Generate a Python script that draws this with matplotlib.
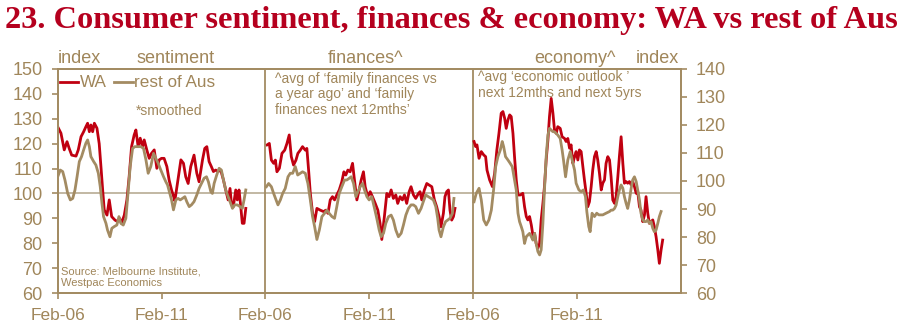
import numpy as np
import matplotlib.pyplot as plt

plt.rcParams['font.family'] = ['Liberation Sans', 'DejaVu Sans']

# x values are months since Feb-06 within each panel; y values
# sentiment (left scale)
sent_wa_m = [0, 1.9, 3.8, 5.4, 6.7, 8.1, 10.6, 11.9, 13.5, 15, 16.3, 17.3, 18.3, 19.2, 20.2, 21.2, 22.7, 24, 25,
             26, 26.9, 28.5, 29.8, 31.2, 33.1, 34.6, 35.8, 36.9, 38.5, 40, 41.3, 42.7, 44.2, 45.2, 46.5, 47.7, 49,
             50, 51.5, 52.9, 54.2, 55.8, 57.3, 58.7, 60, 61.5, 63.1, 64.4, 65.8, 66.9, 67.7, 69.2, 71.2, 72.7, 74,
             75.4, 76.9, 78.8, 80.4, 81.7, 83.7, 85, 86.2, 87.5, 88.8, 90, 91.3, 92.7, 94.2, 95.8, 97.1, 98.5, 99.6,
             100.4, 101.5, 102.9, 103.8, 104.8, 105.8, 106.7, 107.7, 108.7]
sent_wa = [126.8, 124.2, 117.5, 120.8, 118, 115.4, 115, 117.5, 122.8, 124.8, 126.8, 128.2, 124.8, 127.5, 124.8,
           128.2, 126.2, 120, 110.8, 101.4, 93.4, 91.3, 97.4, 90.7, 89.3, 88.7, 90, 88, 91.3, 97.4, 106.7, 118.8,
           123.5, 125.5, 118.8, 122.2, 118.8, 121.5, 117.5, 114.1, 116.1, 117.5, 110.1, 113.5, 114.1, 114.1, 110.8,
           105.4, 101.4, 99, 97, 104, 113.5, 112.1, 106.7, 104, 110.8, 115.4, 108.1, 104.7, 113.5, 118.1, 118.8,
           112.8, 110.8, 108.8, 109.4, 108.8, 109.4, 105.4, 101.4, 97.4, 102, 96, 94.7, 101.4, 97.4, 101.4, 94.7,
           88, 88, 94]
sent_aus_m = [0, 1.5, 2.9, 4.2, 5.8, 7.3, 8.7, 10, 11.2, 12.5, 13.8, 15, 16.3, 17.3, 18.3, 19.2, 20.8, 22.1, 23.5,
              24.6, 25.6, 26.5, 27.9, 28.8, 30.2, 31.3, 32.7, 34.2, 35.4, 36.5, 37.9, 39.4, 40.8, 41.9, 43.3, 44.6,
              46.2, 48.1, 49.6, 51, 52.3, 53.8, 55.4, 56.7, 58.1, 59.6, 61.2, 62.5, 63.5, 64.8, 65.8, 66.9, 68.3,
              69.6, 70.8, 72.1, 73.5, 74.6, 76, 77.3, 78.8, 80.4, 81.7, 83.1, 84.6, 86, 87.1, 88.5, 89.4, 90.4, 91.9,
              93.3, 94.6, 95.8, 97.1, 98.5, 99.6, 101, 102.3, 103.8, 105.4, 106.7, 107.7, 108.7]
sent_aus = [106.7, 109.4, 108.8, 105.4, 100, 97.4, 98, 101.4, 106.7, 112.8, 114.8, 117.5, 120.2, 121.5, 118.8,
            114.8, 112.8, 111.4, 108.1, 102.7, 96, 90.7, 88, 85.3, 82.6, 86, 86.7, 87.3, 90.7, 88, 87.3, 90, 101.4,
            110.8, 118.1, 118.8, 118.8, 118.8, 118.1, 113.5, 108.1, 110.8, 116.1, 114.1, 112.1, 109.4, 106.7, 104.7,
            103.4, 100, 97.4, 93.4, 97.4, 98, 97.4, 98, 98.7, 96.7, 94.7, 95.4, 96.7, 99.4, 102, 104, 106.1, 106.7,
            104.7, 100.7, 100, 104, 107.4, 110.1, 109.4, 105.4, 101.4, 98.7, 96.7, 94, 95.4, 95.4, 94.7, 94, 97.4,
            101.4]

# finances (left scale)
fin_wa_m = [1, 2.3, 3.5, 4.8, 5.8, 6.7, 8.1, 9.6, 11.2, 12.5, 13.8, 15, 16.3, 17.7, 18.8, 20.2, 21.5, 23.1, 24, 25,
            26, 27.3, 28.5, 29.8, 31.7, 33.7, 35, 36.2, 37.5, 38.8, 40, 41.3, 42.7, 44.2, 45.4, 46.5, 47.7, 49, 50.4,
            51.5, 52.9, 54.2, 55.4, 56.7, 57.7, 59.2, 60.6, 61.9, 63.5, 65, 66.3, 67.3, 68.8, 70.2, 71.5, 72.7, 74,
            75.4, 76.5, 77.9, 79.2, 80.4, 81.7, 83.1, 84.2, 85.6, 86.9, 88.5, 89.4, 90.4, 91.9, 93.3, 94.6, 96.2,
            97.7, 99, 100.4, 101.5, 102.9, 103.8, 104.8, 105.8, 106.7, 107.7, 108.7, 109.6]
fin_wa = [119.5, 120.1, 113.4, 112.1, 113.4, 108.7, 110.1, 116.1, 117.4, 120.1, 123.5, 114.8, 111.4, 113.4, 116.1,
          117.4, 118.8, 117.4, 118.1, 109.4, 100, 92, 88.7, 94, 93.3, 92.7, 93.3, 92, 97.4, 98.7, 97.4, 99.4, 101.4,
          104.7, 108.7, 107.4, 109.4, 108.7, 112.1, 105.4, 97.4, 101.4, 105.4, 108.7, 102.7, 98.7, 100.7, 98.7, 96,
          93.3, 88, 81.5, 90.7, 100, 98.7, 101.4, 98, 99.4, 96, 98.7, 97.4, 99.4, 96, 100.7, 102.7, 99.4, 98, 100,
          100.7, 97.4, 101.4, 104, 103.4, 102.7, 97.4, 94.7, 90.7, 86.6, 92, 98.7, 100.7, 101.4, 93.3, 89.3, 90.7,
          94]
fin_aus_m = [0.6, 1.9, 3.5, 4.8, 6.2, 7.3, 8.7, 10, 11.5, 13.1, 14.4, 15.8, 17.3, 18.7, 20.2, 21.5, 23.1, 24.6, 26,
             27.3, 28.5, 29.8, 31.2, 32.7, 34.2, 35.6, 36.9, 38.5, 40, 41.3, 42.7, 44.2, 45.8, 47.1, 48.5, 49.6, 51,
             52.3, 53.5, 54.8, 56.2, 57.3, 58.7, 60, 61.5, 63.1, 64.4, 65.8, 66.9, 68.3, 69.6, 71.2, 72.7, 74, 75.4,
             76.9, 78.5, 79.8, 81.2, 82.7, 84.2, 85.6, 86.9, 88.5, 90, 91.3, 92.7, 94.2, 95.8, 97.1, 98.5, 99.6,
             100.4, 101.5, 102.9, 104.2, 105.4, 106.7, 108.1, 109]
fin_aus = [102.7, 104, 102.7, 100, 97.4, 95.4, 97.4, 100, 102, 106.7, 108.1, 108.1, 110.8, 107.4, 108.1, 108.7,
           108.1, 104, 97.4, 90.7, 86.6, 81.5, 85.3, 90.7, 92, 93.3, 92, 90.7, 90, 94.7, 100, 102.7, 105.4, 105.4,
           106.1, 106.7, 104, 98.7, 100.7, 102.7, 104, 101.4, 98.7, 97.4, 98.7, 94, 90, 85.3, 82.6, 84, 88, 90.7,
           91.3, 89.3, 85.3, 82.6, 84, 87.3, 91.3, 94, 95.4, 95.4, 94.7, 92, 94, 96.7, 99.4, 98.7, 98, 97.4, 94.7,
           90, 85.3, 82.6, 86.6, 88.7, 89.3, 90, 92, 98]

# economy (right scale)
eco_wa_m = [0.6, 1.5, 2.3, 3.5, 4.8, 6.2, 7.3, 8.1, 9.6, 11.2, 12.5, 13.8, 15, 16.3, 17.3, 18.3, 19.2, 20.2, 21.2,
            22.1, 23.1, 24, 25, 26, 27.3, 28.8, 29.8, 30.8, 31.7, 32.7, 33.7, 34.6, 35.6, 36.5, 37.5, 38.5, 39.4,
            40.4, 41.3, 42.3, 43.3, 44.2, 45.2, 46.2, 47.1, 48.1, 49, 50.4, 51.5, 52.9, 53.8, 54.8, 55.8, 56.7, 57.7,
            58.7, 59.6, 60.6, 61.5, 62.5, 63.5, 64.4, 65.4, 66.3, 67.3, 68.3, 69.2, 70.2, 71.2, 72.1, 73.1, 74.1,
            75, 76, 76.9, 77.9, 78.9, 79.8, 80.8, 81.8, 82.7, 83.7, 84.6, 85.6, 86.6, 87.5, 88.5, 89.4, 90.4, 91.4,
            92.3, 93.3, 94.3, 95.2, 96.2, 97.1, 98.1, 99.1, 100, 101, 101.9, 102.9, 103.9, 104.8, 105.8, 106.8,
            107.7, 108.7, 109.6]
eco_wa = [114.1, 112.3, 112.9, 108.1, 110.5, 109.3, 108.7, 103.9, 100.4, 98, 102.7, 111.1, 117, 124.2, 124.8, 122.4,
          118.8, 121.8, 123.6, 123, 117, 108.7, 100.4, 95, 95, 95.6, 90.8, 87.3, 86.1, 87.3, 84.3, 80.7, 81.3, 77.7,
          76, 77.7, 86.1, 92, 98, 107.5, 114.6, 123, 129.5, 124.2, 118.2, 117, 119.4, 118.8, 115.8, 115.2, 114.1,
          115.2, 111.7, 112.9, 106.3, 108.7, 110.5, 107.5, 111.1, 110.5, 105.1, 100.4, 95.6, 90.8, 92.6, 98, 103.9,
          108.7, 110.5, 107.5, 102.7, 96.8, 99.2, 100.4, 106.3, 108.7, 107.5, 101.5, 93.2, 92, 94.4, 101.5, 108.7,
          115.8, 106.3, 99.2, 99.8, 99.2, 99.8, 98.6, 99.8, 98, 95.6, 96.2, 90.8, 89.6, 85.5, 87.9, 94.4, 88.5, 84.9,
          85.5, 86.1, 83.7, 80.1, 75.4, 70.6, 75.4, 78.9]
eco_aus_m = [0.6, 1.9, 3.5, 4.8, 6.2, 7.7, 9.2, 10.6, 11.9, 13.1, 14.4, 15.8, 16.9, 17.7, 18.8, 20.2, 21.5, 22.7,
             24, 25, 26, 26.9, 27.9, 28.8, 29.8, 30.8, 31.7, 32.7, 33.7, 34.6, 35.6, 36.5, 37.5, 38.5, 39.4, 40.4,
             41.3, 42.3, 43.3, 44.2, 45.2, 46.2, 47.1, 48.1, 49, 50.4, 51.5, 52.3, 53.5, 54.8, 56.2, 57.3, 58.7, 59.6,
             61.2, 62.5, 63.8, 65, 65.8, 66.9, 67.7, 68.8, 70.2, 71.5, 72.7, 75, 76.9, 78.9, 79.8, 80.8, 81.8, 82.7,
             83.7, 84.6, 85.6, 86.6, 87.5, 88.5, 89.4, 90.4, 91.4, 92.3, 93.3, 94.3, 95.2, 96.2, 97.1, 98.1, 99.1,
             100, 101, 101.9, 102.9, 103.9, 104.8, 105.8, 106.8, 107.7, 108.7]
eco_aus = [92.6, 95.6, 97.4, 93.2, 86.1, 84.3, 86.1, 89.6, 96.8, 105.1, 108.7, 111.1, 114.1, 112.3, 108.7, 107.5,
           106.3, 105.1, 100.4, 96.8, 88.5, 85.5, 83.7, 81.9, 77.7, 80.1, 80.7, 81.3, 80.1, 78.9, 81.3, 77.7, 74.8,
           73.6, 75.4, 84.9, 96.8, 108.7, 116.4, 118.8, 118.2, 117.6, 117.6, 117, 116.4, 115.2, 111.1, 107.5, 101.5,
           107.5, 110.5, 107.5, 103.9, 99.2, 96.8, 96.2, 96.8, 94.4, 89, 83.7, 81.9, 88.5, 87.3, 88.5, 87.9, 87.9,
           88.5, 89.1, 89.6, 89.6, 90.2, 91.4, 94.4, 96.8, 98.6, 97.4, 94.4, 92, 90.2, 93.2, 97.4, 100.4, 101.5,
           99.8, 96.8, 93.2, 88.5, 86.1, 85.5, 85.5, 86.1, 84.9, 85.5, 83.1, 81.9, 82.5, 84.9, 87.3, 89.1]

panel_titles = ['sentiment', 'finances^', 'economy^']
xtick_labels = ['Feb-06', 'Feb-11'] * 3

red = '#C00010'
tan = '#A38B62'
txt = '#A0865A'
lw = 2.0

fig = plt.figure(figsize=(8.97, 3.29), dpi=100)
ax = fig.add_axes([0.0643, 0.1094, 0.6945, 0.6809])
ax2 = ax.twinx()

# each panel covers 120 months
off = [0, 120, 240]
l1, = ax.plot(np.array(sent_wa_m) + off[0], sent_wa, color=red, lw=lw, label='WA')
l2, = ax.plot(np.array(sent_aus_m) + off[0], sent_aus, color=tan, lw=lw, label='rest of Aus')
ax.plot(np.array(fin_wa_m) + off[1], fin_wa, color=red, lw=lw)
ax.plot(np.array(fin_aus_m) + off[1], fin_aus, color=tan, lw=lw)
ax2.plot(np.array(eco_wa_m) + off[2], eco_wa, color=red, lw=lw)
ax2.plot(np.array(eco_aus_m) + off[2], eco_aus, color=tan, lw=lw)

ax.axhline(100, color='#B8AB93', lw=1.2, zorder=0)
for xv in off[1:]:
    ax.axvline(xv, color=tan, lw=1.3)

ax.set_xlim(0, 360)
ax.set_ylim(60, 150)
ax2.set_ylim(60, 140)
ax.set_yticks(np.arange(60, 151, 10))
ax2.set_yticks(np.arange(60, 141, 10))
ax.set_xticks([0, 60, 120, 180, 240, 300])
ax.set_xticklabels(xtick_labels)

for a in (ax, ax2):
    for s in a.spines.values():
        s.set_color(tan)
        s.set_linewidth(1.3)
    a.tick_params(colors=tan, labelcolor=txt, direction='out', length=4, width=1.2, pad=7, labelsize=13)
ax.tick_params(axis='x', labelsize=12.5)

ax.legend(handles=[l1, l2], loc='center left', bbox_to_anchor=(0.003, 0.9375), frameon=False, ncol=2,
          handlelength=1.1, handletextpad=0.1, columnspacing=0.4, borderaxespad=0, borderpad=0,
          fontsize=12.3, labelcolor=txt)

# headers above the frame
ax.text(0.0, 1.045, 'index', transform=ax.transAxes, color=txt, fontsize=13, va='center', ha='left')
ax.text(0.997, 1.045, 'index', transform=ax.transAxes, color=txt, fontsize=13, va='center', ha='right')
for i, t in enumerate(panel_titles):
    ax.text([0.19, 0.495, 0.83][i], 1.045, t, transform=ax.transAxes, color=txt, fontsize=13,
            va='center', ha='center')

ax.text(0.1257, 0.8125, '*smoothed', transform=ax.transAxes, color=txt, fontsize=10, va='center')
ax.text(0.349, 0.887, "^avg of \u2018family finances vs\na year ago\u2019 and \u2018family\nfinances next 12mths\u2019",
        transform=ax.transAxes, color=txt, fontsize=10, va='center', linespacing=1.15)
ax.text(0.6746, 0.9286, "^avg \u2018economic outlook \u2019\nnext 12mths and next 5yrs",
        transform=ax.transAxes, color=txt, fontsize=10, va='center', linespacing=1.15)
ax.text(0.006, 0.069, 'Source: Melbourne Institute,\nWestpac Economics', transform=ax.transAxes,
        color=txt, fontsize=8, va='center', linespacing=1.2)

fig.text(0.0056, 0.915, '23. Consumer sentiment, finances & economy: WA vs rest of Aus',
         family='Liberation Serif', weight='bold', fontsize=23.3, color='#B5001E', va='baseline')

plt.savefig('out.png', dpi=100)
